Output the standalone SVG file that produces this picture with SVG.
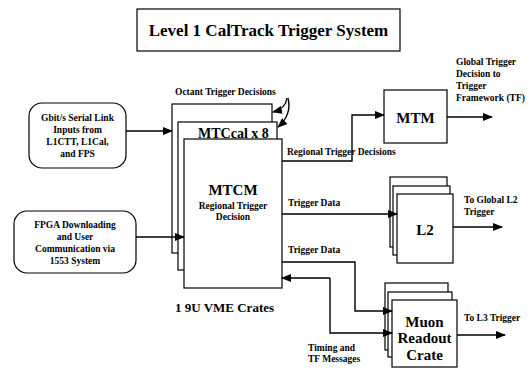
<svg xmlns="http://www.w3.org/2000/svg" width="531" height="371" viewBox="0 0 531 371">
<style>
text{font-family:"Liberation Serif","Times New Roman",serif;font-weight:bold;fill:#000}
.s{font-size:9.5px}
.m{font-size:15px}
.box{fill:#fff;stroke:#000;stroke-width:1.2}
.c{fill:none;stroke:#000;stroke-width:1.4}
.ct{text-anchor:middle}
</style>
<defs>
<marker id="ah" markerWidth="10" markerHeight="8" refX="9" refY="4" orient="auto" markerUnits="userSpaceOnUse">
<path d="M0,0 L10,4 L0,8 z" fill="#000"/>
</marker>
</defs>
<rect width="531" height="371" fill="#fff"/>
<g id="title">
<rect class="box" x="137" y="9" width="263" height="42"/>
<text x="268.5" y="36" class="ct" style="font-size:17px">Level 1 CalTrack Trigger System</text>
</g>
<g id="gbit">
<rect class="box" x="29" y="103" width="97" height="65" rx="13"/>
<text class="s ct" x="77.5" y="121">Gbit/s Serial Link</text>
<text class="s ct" x="77.5" y="133">Inputs from</text>
<text class="s ct" x="77.5" y="145">L1CTT, L1Cal,</text>
<text class="s ct" x="77.5" y="157">and FPS</text>
</g>
<g id="fpga">
<rect class="box" x="14" y="211" width="122" height="62" rx="13"/>
<text class="s ct" x="75" y="228">FPGA Downloading</text>
<text class="s ct" x="75" y="240">and User</text>
<text class="s ct" x="75" y="252">Communication via</text>
<text class="s ct" x="75" y="264">1553 System</text>
</g>
<g id="mtc">
<text class="s" x="175" y="95">Octant Trigger Decisions</text>
<rect class="box" x="172" y="104" width="100" height="149"/>
<rect class="box" x="178" y="122" width="99" height="148"/>
<text x="198" y="138" style="font-size:14px">MTCcal x 8</text>
<rect class="box" x="184" y="139" width="98" height="149"/>
<text class="m ct" x="233" y="195">MTCM</text>
<text class="s ct" x="233" y="209">Regional Trigger</text>
<text class="s ct" x="233" y="220">Decision</text>
<text x="175" y="312" style="font-size:13px">1 9U VME Crates</text>
</g>
<g id="mtm">
<rect class="box" x="384" y="90" width="63" height="53"/>
<text class="m ct" x="415.5" y="123">MTM</text>
<text class="s" x="456" y="65">Global Trigger</text>
<text class="s" x="456" y="77">Decision to</text>
<text class="s" x="456" y="89">Trigger</text>
<text class="s" x="456" y="101">Framework (TF)</text>
</g>
<g id="l2">
<rect class="box" x="390" y="177" width="57" height="70"/>
<rect class="box" x="393" y="186" width="57" height="69"/>
<rect class="box" x="397" y="194" width="56" height="69"/>
<text class="m ct" x="425" y="235">L2</text>
<text class="s" x="464" y="203">To Global L2</text>
<text class="s" x="464" y="215">Trigger</text>
</g>
<g id="muon">
<rect class="box" x="385" y="283" width="63" height="67"/>
<rect class="box" x="388" y="292" width="64" height="65"/>
<rect class="box" x="392" y="300" width="65" height="67"/>
<text class="m ct" x="424.5" y="327">Muon</text>
<text class="m ct" x="424.5" y="343">Readout</text>
<text class="m ct" x="424.5" y="360">Crate</text>
<text class="s" x="464" y="321">To L3 Trigger</text>
</g>
<g id="labels">
<text class="s" x="287" y="155">Regional Trigger Decisions</text>
<text class="s" x="288" y="206">Trigger Data</text>
<text class="s" x="288" y="253">Trigger Data</text>
<text class="s" x="308" y="351">Timing and</text>
<text class="s" x="308" y="362">TF Messages</text>
</g>
<g id="connectors">
<path class="c" d="M126,131 H172" marker-end="url(#ah)"/>
<path class="c" d="M136,237 H184" marker-end="url(#ah)"/>
<path class="c" d="M287,98 C286,106 281,110 273,112" marker-end="url(#ah)"/>
<path class="c" d="M288,98 C291,110 286,120 278,127" marker-end="url(#ah)"/>
<path class="c" d="M282,161 H352 V115 H384" marker-end="url(#ah)"/>
<path class="c" d="M447,117 H492" marker-end="url(#ah)"/>
<path class="c" d="M282,214 H397" marker-end="url(#ah)"/>
<path class="c" d="M453,227 H502" marker-end="url(#ah)"/>
<path class="c" d="M282,262 H355 V311 H392" marker-end="url(#ah)"/>
<path class="c" d="M330,278 V333 H392" marker-end="url(#ah)"/>
<path class="c" d="M330,278 H282" marker-end="url(#ah)"/>
<path class="c" d="M457,335 H505" marker-end="url(#ah)"/>
</g>
</svg>
